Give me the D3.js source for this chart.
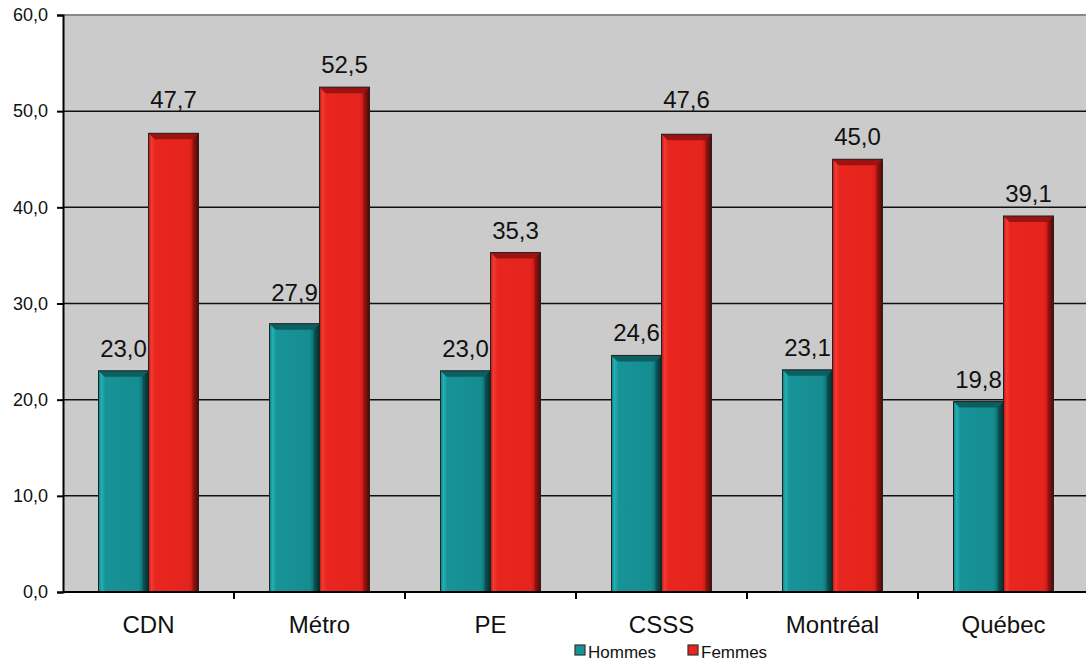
<!DOCTYPE html>
<html><head><meta charset="utf-8">
<script src="https://cdn.jsdelivr.net/npm/d3@7"></script>
<style>body{margin:0;background:#fff;}svg{display:block;font-family:"Liberation Sans",Arial,sans-serif;}</style>
</head><body><svg id="c" width="1086" height="662"></svg>
<script>
const categories = ["CDN","Métro","PE","CSSS","Montréal","Québec"];
const series = ["Hommes","Femmes"];
const hommes = [23.0,27.9,23.0,24.6,23.1,19.8];
const femmes = [47.7,52.5,35.3,47.6,45.0,39.1];
const yTicks = [0,10,20,30,40,50,60];

const svg = d3.select("#c");
const m = {l:63, t:15, r:1089, b:592};
const x = d3.scaleBand().domain(categories).range([m.l, m.r]).paddingInner(0).paddingOuter(0);
const xs = d3.scaleBand().domain(series).range([0, x.bandwidth()]).paddingInner(0).paddingOuter(0.71);
const y = d3.scaleLinear().domain([0,60]).range([m.b, m.t]);
const fmt = v => v.toFixed(1).replace(".", ",");

const defs = svg.append("defs");
function grad(id, stops){
  const g = defs.append("linearGradient").attr("id", id).attr("x1","0").attr("x2","1").attr("y1","0").attr("y2","0");
  stops.forEach(s => g.append("stop").attr("offset", s[0]).attr("stop-color", s[1]));
}
grad("gT", [[0,"#127e80"],[0.06,"#22b0b4"],[0.14,"#179397"],[0.8,"#168d90"],[0.9,"#0f6e70"],[1,"#063c3c"]]);
grad("gF", [[0,"#b81818"],[0.06,"#f23a30"],[0.14,"#e8261f"],[0.8,"#e6241e"],[0.9,"#c01a16"],[1,"#6e0c0a"]]);
const colors = {Hommes:{fill:"url(#gT)", top:"#0c5f60", legend:"#179397"}, Femmes:{fill:"url(#gF)", top:"#9c1412", legend:"#e8261f"}};

// plot background
svg.append("rect").attr("x", m.l).attr("y", m.t).attr("width", m.r - m.l).attr("height", m.b - m.t).attr("fill", "#cbcbcb");
svg.append("line").attr("x1", m.l).attr("x2", m.r).attr("y1", m.t).attr("y2", m.t).attr("stroke", "#888").attr("stroke-width", 2);

// gridlines
const grid = yTicks.filter(d => d > 0 && d < 60);
svg.append("g").selectAll("line").data(grid).join("line")
  .attr("x1", m.l).attr("x2", m.r).attr("y1", d => y(d)).attr("y2", d => y(d))
  .attr("stroke", "#111").attr("stroke-width", 1.5);

// bars
const data = [];
categories.forEach((c,i) => { data.push({c, s:"Hommes", v:hommes[i]}); data.push({c, s:"Femmes", v:femmes[i]}); });
const bg = svg.append("g");
const lab = svg.append("g");
data.forEach(d => {
  const x0 = x(d.c) + xs(d.s), w = xs.bandwidth(), y0 = y(d.v), h = y(0) - y0;
  const g = bg.append("g");
  g.append("rect").attr("x", x0).attr("y", y0).attr("width", w).attr("height", h).attr("fill", colors[d.s].fill);
  const b = 6;
  g.append("path").attr("d", `M${x0},${y0}L${x0+w},${y0}L${x0+w-b},${y0+b}L${x0+b},${y0+b}Z`).attr("fill", colors[d.s].top);
  g.append("path").attr("d", `M${x0+w},${y0}L${x0+w},${y0+h}L${x0+w-b},${y0+h}L${x0+w-b},${y0+b}Z`).attr("fill", "#000").attr("opacity", 0.25);
  g.append("rect").attr("x", x0).attr("y", y0).attr("width", w).attr("height", h).attr("fill", "none").attr("stroke", "#222").attr("stroke-width", 1);
  // label: above bar, nudged above a gridline it would cross
  let base = y0 - 14;
  grid.forEach(gv => { const gy = y(gv); if (gy < base + 2 && gy > base - 17) base = gy - 3; });
  lab.append("text").attr("x", x0 + w/2).attr("y", base).attr("text-anchor", "middle")
    .attr("font-size", 24).attr("fill", "#111").text(fmt(d.v));
});

// y axis
const ya = d3.axisLeft(y).tickValues(yTicks).tickSize(6).tickFormat(fmt);
const yg = svg.append("g").attr("transform", `translate(${m.l},0)`).call(ya);
yg.select(".domain").attr("stroke", "#000").attr("stroke-width", 2);
yg.selectAll(".tick line").attr("stroke", "#000").attr("stroke-width", 2);
yg.selectAll(".tick text").attr("font-size", 18).attr("fill", "#111").attr("font-family", "Liberation Sans, Arial, sans-serif").attr("x", -15);

// x axis
const xg = svg.append("g").attr("transform", `translate(0,${m.b})`);
xg.append("line").attr("x1", m.l).attr("x2", m.r).attr("stroke", "#000").attr("stroke-width", 2);
xg.selectAll("line.t").data(categories.slice(1).concat(["__end"])).join("line").attr("class","t")
  .attr("x1", (d,i) => m.l + (i+1)*x.bandwidth()).attr("x2", (d,i) => m.l + (i+1)*x.bandwidth())
  .attr("y1", 0).attr("y2", 7).attr("stroke", "#000").attr("stroke-width", 2);
xg.selectAll("text").data(categories).join("text")
  .attr("x", d => x(d) + x.bandwidth()/2).attr("y", 41).attr("text-anchor", "middle")
  .attr("font-size", 24).attr("fill", "#111").text(d => d);

// legend
const lg = svg.append("g");
const lx = [575, 688];
series.forEach((s,i) => {
  lg.append("rect").attr("x", lx[i]).attr("y", 645).attr("width", 10).attr("height", 10)
    .attr("fill", colors[s].legend).attr("stroke", "#333").attr("stroke-width", 1.2);
  lg.append("text").attr("x", lx[i] + 13).attr("y", 658).attr("font-size", 17).attr("fill", "#111").text(s);
});
</script></body></html>
